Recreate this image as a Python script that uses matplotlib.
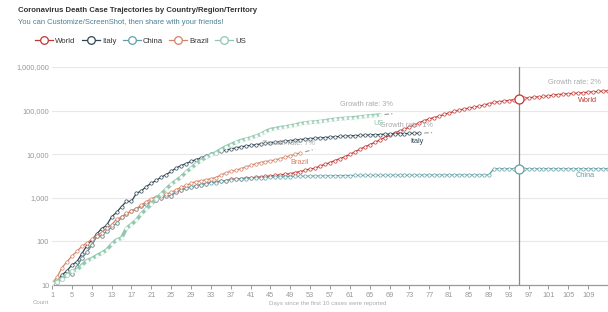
import matplotlib
matplotlib.use("Agg")
import matplotlib.pyplot as plt
from matplotlib.ticker import FuncFormatter, FixedLocator, NullLocator
from matplotlib.lines import Line2D
import numpy as np

plt.rcParams['font.family'] = ['Liberation Sans', 'DejaVu Sans']

# cumulative deaths, day 1 = first day with ~10 deaths
world = [10, 12, 14,
         17, 18, 26, 42, 56, 82, 131, 133, 171, 213,
         259, 362, 426, 492, 564, 634, 719, 806, 906, 1013, 1113, 1118, 1371, 1523, 1666,
         1770, 1868, 2007, 2122, 2247, 2251, 2458, 2469, 2629, 2708, 2770, 2814, 2872, 2941,
         2996, 3085, 3160, 3254, 3348, 3460, 3558, 3802, 3988, 4262, 4615, 4720, 5404, 5819,
         6440, 7126, 7905, 8733, 9867, 11299, 12973, 14623, 16497, 18615, 21181, 23970,
         27198, 30652, 33925, 37582, 42107,
         46809, 52983, 58787, 64606, 69374, 74565, 81865, 88338, 95455, 102525, 108503,
         114091, 119482, 125984, 134176, 143800, 153821, 159509, 165043, 170423, 177641,
         184681, 191061, 197245, 202846, 206544, 211167, 217153, 227638, 233388,
         238650, 243808, 247470, 251537, 257239, 263855, 269567, 274898, 279311, 282709]
china = [10, 12, 14,
         17, 18, 26, 42, 56, 82, 131, 133, 171, 213,
         259, 361, 425, 490, 562, 632, 717, 804, 904, 1011, 1111, 1116, 1368, 1520, 1662,
         1765, 1863, 2002, 2114, 2236, 2236, 2441, 2443, 2593, 2663, 2715, 2744, 2788, 2835,
         2870, 2912, 2945, 2981, 3013, 3042, 3070, 3097, 3119, 3136, 3158, 3169, 3176, 3189,
         3199, 3213, 3226, 3237, 3245, 3249, 3253, 3259, 3274, 3274, 3281, 3285, 3291, 3296,
         3299, 3304, 3308,
         3309, 3316, 3322, 3326, 3330, 3331, 3333, 3335, 3336, 3339, 3340, 3343, 3343, 3345,
         3346, 3346, 4636, 4636, 4636, 4636, 4636, 4636, 4636, 4636, 4636, 4636, 4636, 4636,
         4636, 4636,
         4636, 4636, 4636, 4636, 4637, 4637, 4637, 4637, 4637, 4637]
italy = [10, 12, 17, 21, 29,
         34, 52, 79, 107, 148, 197, 233, 366, 463, 631, 827, 827, 1266, 1441, 1809, 2158,
         2503, 2978, 3405, 4032, 4825, 5476, 6077, 6820, 7503, 8165, 9134, 10023, 10779,
         11591, 12428,
         13155, 13915, 14681, 15362, 15887, 16523, 17127, 17669, 18279, 18849, 19468, 19899,
         20465, 21067, 21645, 22170, 22745, 23227, 23660, 24114, 24648, 25085, 25549, 25969,
         26384, 26644, 26977, 27359, 27682, 27967,
         28236, 28710, 28884, 29079, 29315, 29684, 29958, 30201, 30395]
us = [11, 12, 14, 17, 21, 22, 28, 36, 40, 47, 54, 63, 85, 108, 118, 200, 244, 307, 427,
      552, 706, 942, 1209, 1581, 2026, 2467, 2978, 3873,
      4757, 5926, 7087, 8407, 9619, 10783, 12722, 14695, 16478, 18586, 20463, 22020, 23529,
      25832, 28325, 32916, 36773, 38664, 40661, 42094, 44444, 46622, 49954, 51949, 53755,
      54881, 56259, 58355, 60967, 62996,
      64943, 66369, 67682, 68922, 71064, 73431, 75662, 77180, 78795]
brazil = [11, 15, 25, 34, 46, 59, 77, 92, 111, 136, 159, 201,
          240, 324, 359, 445, 486, 564, 686, 819, 950, 1057, 1124, 1223, 1328, 1532, 1736,
          1924, 2141, 2354, 2462, 2587, 2741, 2906, 3331, 3704, 4057, 4286, 4603, 5083, 5513,
          6006,
          6412, 6761, 7051, 7367, 7938, 8588, 9190, 10017, 10656]

names = ['World', 'Italy', 'China', 'Brazil', 'US']
series = [world, italy, china, brazil, us]
colors = ['#c23531', '#2f4554', '#61a0a8', '#d48265', '#91c7ae']
growth = [2, 1, None, 7, 3]
mark_day = 95

fig = plt.figure(figsize=(6.08, 3.12), dpi=100)
ax = fig.add_axes([52 / 608, 27 / 312, 556 / 608, 218 / 312])

for name, vals, c in zip(names, series, colors):
    days = np.arange(1, len(vals) + 1)
    lw = 2.6 if name == 'US' else 0.9
    ax.plot(days, vals, color=c, lw=lw, marker='o', ms=2.4, mfc='white',
            mec=c if name != 'US' else '#e8f3ee', mew=0.5, zorder=3)

# vertical marker line and big circles
ax.axvline(mark_day, color='#888888', lw=0.9, zorder=4)
for name, vals, c in zip(names, series, colors):
    if len(vals) >= mark_day:
        ax.plot(mark_day, vals[mark_day - 1], 'o', ms=6.5, mfc='white', mec=c,
                mew=0.9, zorder=5)

# end labels: (growth dx, growth dy, name dx, name dy) in pixels
offsets = {'World': (-7, 8, -11, -10),
           'Italy': (14, 8, 4, -8),
           'China': (None, None, -13, -7),
           'Brazil': (15, 9, 9, -10),
           'US': (13, 11, 4, -8)}
for name, vals, c, g in zip(names, series, colors, growth):
    n = len(vals)
    last = vals[-1]
    gdx, gdy, ndx, ndy = offsets[name]
    if g is not None and n < 110:
        ext = np.arange(n + 1, n + 4)
        ax.plot(ext, last * (1 + g / 100) ** (ext - n), color='#999999', lw=0.8,
                ls=(0, (4, 2, 1, 2)), zorder=2)
    if g is not None:
        ax.annotate(f'Growth rate: {g}%', (n, last), xytext=(gdx, gdy),
                    textcoords='offset pixels', ha='right', va='center',
                    fontsize=5.3, color='#aaaaaa', zorder=6)
    ax.annotate(name, (n, last), xytext=(ndx, ndy), textcoords='offset pixels',
                ha='right', va='center', fontsize=5.3, color=c, zorder=6)

ax.set_yscale('log')
ax.set_ylim(10, 1e6)
ax.set_xlim(1, 113)
ax.yaxis.set_major_locator(FixedLocator([10, 100, 1000, 10000, 100000, 1000000]))
ax.yaxis.set_minor_locator(NullLocator())
ax.yaxis.set_major_formatter(FuncFormatter(lambda v, p: f'{int(v):,}'))
ax.set_xticks(np.arange(1, 112, 4))
ax.grid(axis='y', color='#e8e8e8', lw=0.8, zorder=0)
for s in ['top', 'right', 'left']:
    ax.spines[s].set_visible(False)
ax.spines['bottom'].set_color('#999999')
ax.spines['bottom'].set_linewidth(0.9)
ax.tick_params(axis='y', length=0, labelsize=5.3, labelcolor='#999999', pad=2)
ax.tick_params(axis='x', length=3, width=0.7, color='#999999', labelsize=5.3,
               labelcolor='#999999', pad=2)

fig.text(18 / 608, 1 - 10 / 312, 'Coronavirus Death Case Trajectories by Country/Region/Territory',
         fontsize=5.6, fontweight='bold', color='#333333', va='center')
fig.text(18 / 608, 1 - 23 / 312, 'You can Customize/ScreenShot, then share with your friends!',
         fontsize=5.4, color='#4a7f96', va='center')
fig.text(33 / 608, 1 - 303 / 312, 'Count', fontsize=4.4, color='#aaaaaa', va='center')
fig.text(328 / 608, 1 - 303 / 312, 'Days since the first 10 cases were reported',
         fontsize=4.4, color='#aaaaaa', va='center', ha='center')

handles = [Line2D([], [], color=c, lw=0.9, marker='o', ms=5.5, mfc='white', mec=c, mew=0.9)
           for c in colors]
fig.legend(handles, names, loc='center left', bbox_to_anchor=(35 / 608, 1 - 41 / 312),
           ncol=5, frameon=False, fontsize=5.6, handlelength=2.3, handletextpad=0.3,
           columnspacing=0.8, labelcolor='#333333', borderaxespad=0, borderpad=0)

fig.savefig('out.png', dpi=100)
